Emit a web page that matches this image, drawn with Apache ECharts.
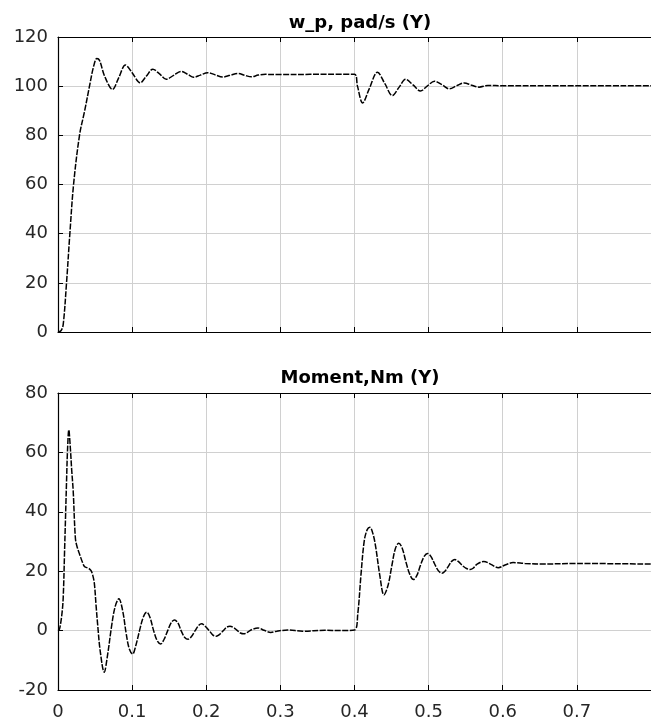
<!DOCTYPE html>
<html>
<head>
<meta charset="utf-8">
<script src="https://cdn.jsdelivr.net/npm/echarts@6/dist/echarts.min.js"></script>
<style>html,body{margin:0;padding:0;background:#fff}#c{width:651px;height:726px}</style>
</head>
<body>
<div id="c"></div>
<script>
const titleTop = 'w_p, pad/s (Y)';
const titleBottom = 'Moment,Nm (Y)';
// [time s, value]
const speedData = [[0,0],[0.004,0.5],[0.007,3],[0.0115,20],[0.016,40],[0.021,60],[0.029,80],[0.036,90],[0.0425,100],[0.048,108],[0.0525,111.3],[0.056,110.5],[0.063,104],[0.0735,98.7],[0.082,103.5],[0.091,108.6],[0.1,105.5],[0.111,101.4],[0.119,104],[0.128,106.9],[0.137,105],[0.146,102.8],[0.156,104.4],[0.166,106],[0.175,104.8],[0.183,103.6],[0.192,104.5],[0.202,105.5],[0.212,104.6],[0.222,103.7],[0.232,104.4],[0.243,105.2],[0.252,104.4],[0.261,103.8],[0.27,104.5],[0.28,104.8],[0.3,104.7],[0.34,104.8],[0.4,104.8],[0.404,100],[0.411,93.2],[0.42,99],[0.431,105.7],[0.441,101],[0.451,96.2],[0.46,99.5],[0.469,102.8],[0.479,100.5],[0.489,98],[0.498,100],[0.508,102],[0.518,100.6],[0.528,98.9],[0.538,100.2],[0.548,101.3],[0.558,100.4],[0.568,99.6],[0.58,100.3],[0.6,100.2],[0.65,100.2],[0.8,100.2]];
const momentData = [[0,0],[0.002,0.5],[0.005,5],[0.007,11],[0.009,28],[0.0115,50],[0.0128,60.5],[0.0146,67.6],[0.0165,62],[0.0185,54],[0.0205,47],[0.0235,31],[0.026,28],[0.029,25.8],[0.033,23],[0.036,21.5],[0.041,21],[0.0446,20.2],[0.047,18.5],[0.049,16],[0.0515,8],[0.0535,2],[0.057,-7],[0.0623,-14],[0.067,-8],[0.072,1],[0.077,8],[0.0821,10.7],[0.087,7],[0.092,-1],[0.096,-6],[0.1007,-7.9],[0.105,-5],[0.11,0],[0.115,4.5],[0.1196,6.2],[0.124,4.5],[0.129,0],[0.134,-3.5],[0.1386,-4.5],[0.143,-3],[0.148,0],[0.153,2.8],[0.1572,3.6],[0.162,2.5],[0.166,0],[0.171,-2.3],[0.1755,-2.9],[0.18,-2],[0.185,0],[0.19,1.8],[0.1938,2.3],[0.198,1.6],[0.204,0],[0.209,-1.5],[0.2135,-1.9],[0.218,-1.3],[0.223,0],[0.228,1.2],[0.232,1.5],[0.237,1],[0.242,0],[0.246,-0.8],[0.2505,-1.1],[0.256,-0.5],[0.261,0.3],[0.2698,0.9],[0.278,0.1],[0.287,-0.6],[0.295,-0.2],[0.31,0.2],[0.33,-0.2],[0.36,0.1],[0.38,0],[0.4,0.2],[0.4044,5.6],[0.4088,19],[0.4132,30.3],[0.4172,34],[0.4208,34.8],[0.425,32.5],[0.4287,28],[0.4345,18],[0.4397,12],[0.445,15],[0.4505,22],[0.455,27.5],[0.4596,29.4],[0.464,28],[0.4695,23],[0.4745,19],[0.4795,17.2],[0.484,18.5],[0.489,22],[0.494,25],[0.4985,26],[0.503,25],[0.508,22.5],[0.513,20.2],[0.518,19.3],[0.522,20],[0.527,21.8],[0.531,23.3],[0.5355,23.9],[0.54,23.3],[0.546,21.8],[0.551,20.9],[0.556,20.6],[0.56,21],[0.565,22.3],[0.5744,23.3],[0.584,22.3],[0.594,21.2],[0.604,22.2],[0.614,22.9],[0.63,22.6],[0.65,22.4],[0.7,22.6],[0.8,22.4]];
const xRange = [0, 0.8, 0.1];
const yRangeTop = [0, 120, 20];
const yRangeBottom = [-20, 80, 20];

const FONT = 'DejaVu Sans';
const txt = '#262626';
const grids = [
  {left: 58, top: 37, width: 604, height: 295},
  {left: 58, top: 393, width: 604, height: 297}
];
function xAx(gi, pos, labels) {
  return {
    type: 'value', gridIndex: gi, position: pos,
    min: xRange[0], max: xRange[1], interval: xRange[2],
    axisLine: {show: true, onZero: false, lineStyle: {color: '#000', width: 1.2}},
    axisTick: {show: true, inside: true, length: 5, lineStyle: {color: '#000'}},
    axisLabel: {show: labels, showMaxLabel: false, margin: 13, color: txt, fontFamily: FONT, fontSize: 18,
      formatter: v => String(+v.toFixed(1))},
    splitLine: {show: pos === 'bottom', lineStyle: {color: '#d0d0d0', width: 1}}
  };
}
function yAx(gi, r) {
  return {
    type: 'value', gridIndex: gi, min: r[0], max: r[1], interval: r[2],
    axisLine: {show: true, onZero: false, lineStyle: {color: '#000', width: 1.2}},
    axisTick: {show: true, inside: true, length: 5, lineStyle: {color: '#000'}},
    axisLabel: {margin: 10, color: txt, fontFamily: FONT, fontSize: 18, padding: [6, 0, 0, 0]},
    splitLine: {show: true, lineStyle: {color: '#d0d0d0', width: 1}}
  };
}
const lineStyle = {color: '#000', width: 1.5, type: [6, 1.5]};
const chart = echarts.init(document.getElementById('c'), null, {renderer: 'canvas'});
chart.setOption({
  animation: false,
  backgroundColor: '#fff',
  grid: grids,
  xAxis: [xAx(0, 'bottom', false), xAx(0, 'top', false), xAx(1, 'bottom', true), xAx(1, 'top', false)],
  yAxis: [yAx(0, yRangeTop), yAx(1, yRangeBottom)],
  graphic: [
    {type: 'text', x: 360, y: 23, style: {text: titleTop, font: 'bold 18px "DejaVu Sans"', fill: '#000', textAlign: 'center', textVerticalAlign: 'middle'}},
    {type: 'text', x: 360, y: 378, style: {text: titleBottom, font: 'bold 18px "DejaVu Sans"', fill: '#000', textAlign: 'center', textVerticalAlign: 'middle'}}
  ],
  series: [
    {type: 'line', xAxisIndex: 0, yAxisIndex: 0, data: speedData, showSymbol: false, smooth: 0.35, lineStyle: lineStyle},
    {type: 'line', xAxisIndex: 2, yAxisIndex: 1, data: momentData, showSymbol: false, smooth: 0.35, lineStyle: lineStyle}
  ]
});
</script>
</body>
</html>
